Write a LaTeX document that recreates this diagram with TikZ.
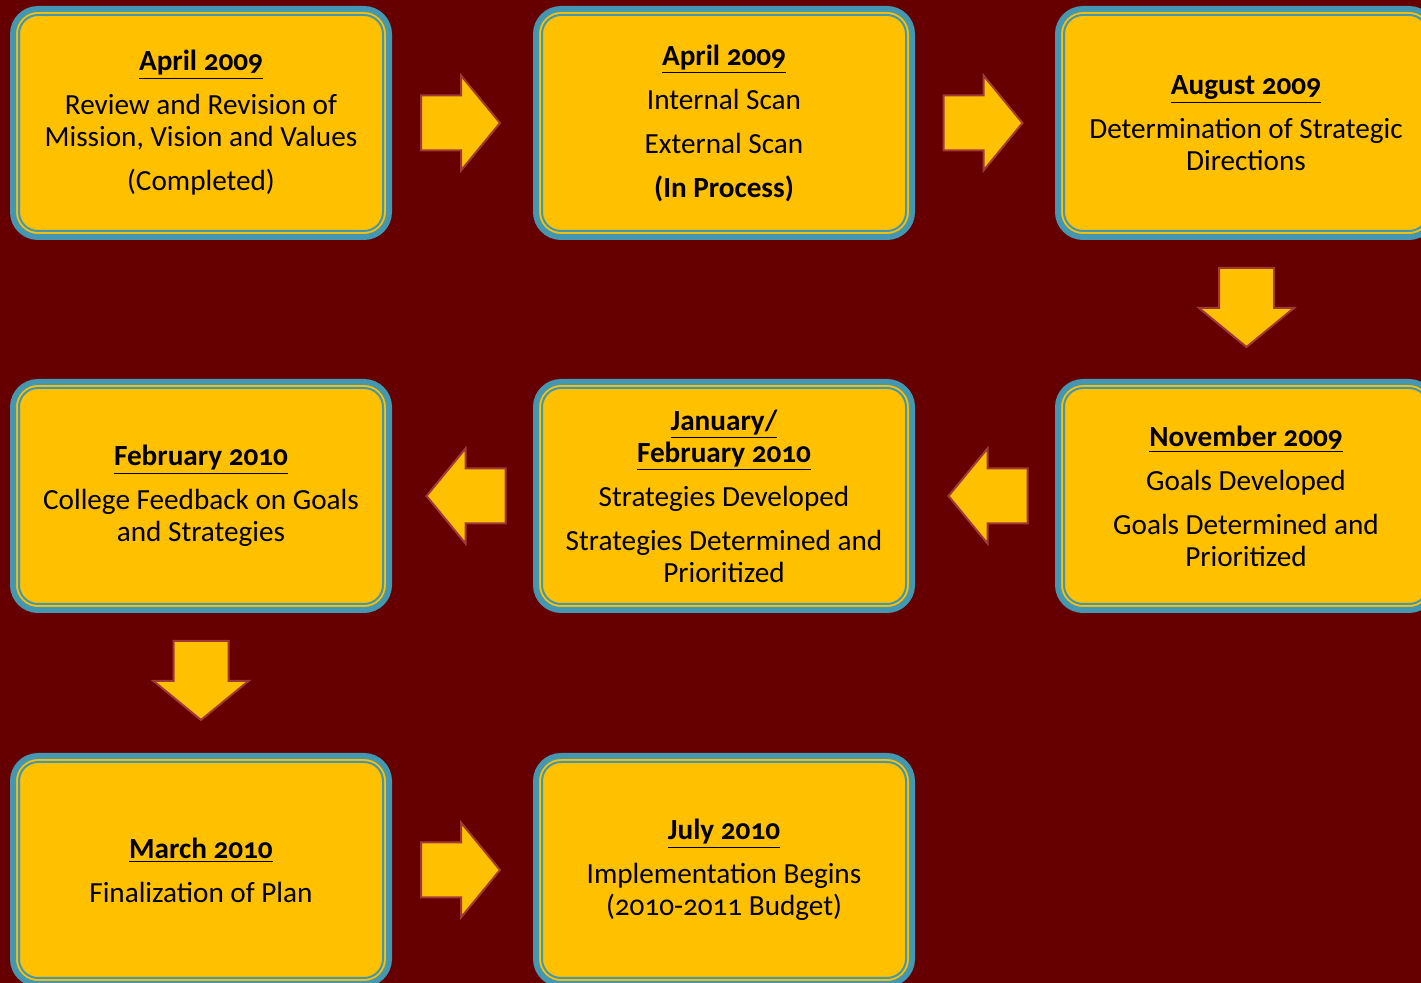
\documentclass[tikz,border=0pt]{standalone}
\usepackage{fontspec}
\setmainfont{Carlito}[Numbers=OldStyle]
\usepackage{tikz}

\definecolor{bgred}{HTML}{660000}
\definecolor{boxyellow}{HTML}{FFC000}
\definecolor{rimteal}{HTML}{4397B0}
\definecolor{arrowred}{HTML}{A13A36}

\tikzset{
  box/.style={draw=rimteal, line width=3pt, fill=boxyellow, rounded corners=12.5pt,
    minimum width=188pt, minimum height=114pt, outer sep=0pt, inner sep=0pt,
    align=center, font=\fontsize{14.6}{16}\selectfont},
  inner rim/.style={draw=rimteal, line width=1pt, rounded corners=9.5pt},
  blockarrow/.pic={
    \draw[fill=boxyellow, draw=arrowred, line width=1pt]
      (-39.5,-27.5) -- (0.5,-27.5) -- (0.5,-47.5) -- (39.5,0)
      -- (0.5,47.5) -- (0.5,27.5) -- (-39.5,27.5) -- cycle;
  }
}

\begin{document}
\begin{tikzpicture}[x=0.5pt, y=-0.5pt]
\useasboundingbox (0,0) rectangle (1421,983);
\clip (0,0) rectangle (1421,983);
\fill[bgred] (0,0) rectangle (1421,983);

%Kasten, Reihe 1
\node[box] (apr) at (201,123) {\textbf{\underline{April 2009}}\\[6pt]
  Review and Revision of\\ Mission, Vision and Values\\[6pt] (Completed)};
\node[box] (scan) at (724,123) {\textbf{\underline{April 2009}}\\[6pt]
  Internal Scan\\[6pt] External Scan\\[6pt] \textbf{(In Process)}};
\node[box] (aug) at (1246,123) {\textbf{\underline{August 2009}}\\[6pt]
  Determination of Strategic\\ Directions};

%Kasten, Reihe 2
\node[box] (nov) at (1246,496) {\textbf{\underline{November 2009}}\\[6pt]
  Goals Developed\\[6pt] Goals Determined and\\ Prioritized};
\node[box] (jan) at (724,496) {\textbf{\underline{January/}}\\ \textbf{\underline{February 2010}}\\[6pt]
  Strategies Developed\\[6pt] Strategies Determined and\\ Prioritized};
\node[box] (feb) at (201,496) {\textbf{\underline{February 2010}}\\[6pt]
  College Feedback on Goals\\ and Strategies};

%Kasten, Reihe 3
\node[box] (mar) at (201,870) {\textbf{\underline{March 2010}}\\[6pt]
  Finalization of Plan};
\node[box] (jul) at (724,870) {\textbf{\underline{July 2010}}\\[6pt]
  Implementation Begins\\ (2010-2011 Budget)};

\foreach \b in {apr,scan,aug,nov,jan,feb,mar,jul}
  \draw[inner rim] ([shift={(6,6)}]\b.north west) rectangle ([shift={(-6,-6)}]\b.south east);

%Pfeile
\pic at (460.5,123) {blockarrow};
\pic at (983,123) {blockarrow};
\pic[rotate=-90] at (1246.5,307.5) {blockarrow};
\pic[rotate=180] at (988,496) {blockarrow};
\pic[rotate=180] at (466,496) {blockarrow};
\pic[rotate=-90] at (201,680.5) {blockarrow};
\pic at (460.5,870) {blockarrow};
\end{tikzpicture}
\end{document}
